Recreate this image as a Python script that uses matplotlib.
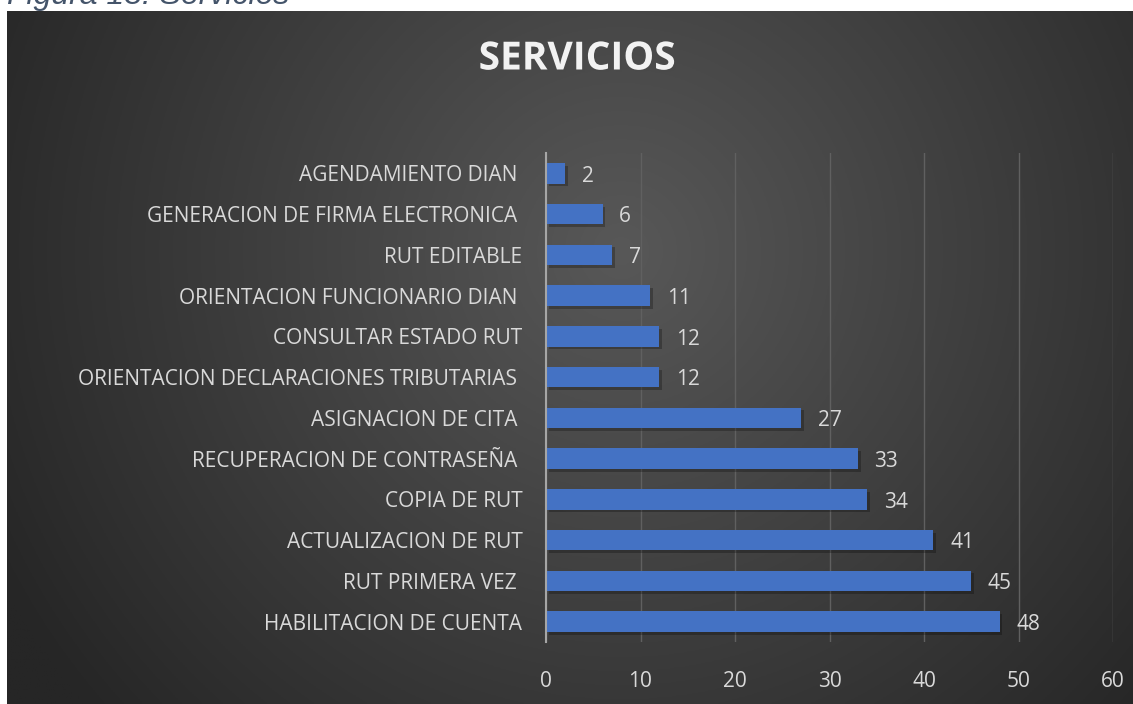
import numpy as np
import matplotlib.pyplot as plt
from matplotlib import patheffects as pe

categories = ["AGENDAMIENTO DIAN ", "GENERACION DE FIRMA ELECTRONICA ", "RUT EDITABLE",
              "ORIENTACION FUNCIONARIO DIAN ", "CONSULTAR ESTADO RUT",
              "ORIENTACION DECLARACIONES TRIBUTARIAS ", "ASIGNACION DE CITA ",
              "RECUPERACION DE CONTRASEÑA ", "COPIA DE RUT", "ACTUALIZACION DE RUT",
              "RUT PRIMERA VEZ ", "HABILITACION DE CUENTA"]
values = [2, 6, 7, 11, 12, 12, 27, 33, 34, 41, 45, 48]
xticks = [0, 10, 20, 30, 40, 50, 60]
title = "SERVICIOS"
caption = "Figura 13. Servicios"

W, H = 1133, 704
fig = plt.figure(figsize=(W / 100, H / 100), dpi=100, facecolor="white")

# dark gradient background
bg_left, bg_top = 7, 11
bgax = fig.add_axes([bg_left / W, 0, 1 - bg_left / W, (H - bg_top) / H])
bgax.set_axis_off()
ny, nx = 300, 500
yy, xx = np.mgrid[0:ny, 0:nx]
px = bg_left + xx / nx * (W - bg_left)
py = bg_top + yy / ny * (H - bg_top)
d = np.sqrt((px - 620) ** 2 + (py - 250) ** 2) / 700
d = np.clip(d, 0, 1)
c0 = np.array([0x58, 0x58, 0x58]) / 255
c1 = np.array([0x26, 0x26, 0x26]) / 255
img = c0[None, None, :] * (1 - d[..., None]) + c1[None, None, :] * d[..., None]
bgax.imshow(img, aspect="auto", extent=[0, 1, 0, 1], origin="upper")

fig.text(7 / W, 1 - 4 / H, caption, fontsize=23, style="italic", color="#44546A",
         family="Liberation Sans", ha="left", va="baseline")

ax = fig.add_axes([546 / W, 62 / H, 567 / W, 489 / H])
ax.set_facecolor("none")
y = np.arange(len(categories))
bars = ax.barh(y, values, height=0.5, color="#4472C4", zorder=3)
for b in bars:
    b.set_path_effects([pe.SimplePatchShadow(offset=(2, -2), shadow_rgbFace="black", alpha=0.25), pe.Normal()])
ax.set_ylim(len(categories) - 0.5, -0.5)
ax.set_xlim(0, 60)
ax.set_xticks(xticks)
ax.set_yticks(y)
ax.set_yticklabels(categories)
ax.grid(axis="x", color="#606060", linewidth=1, zorder=0)
for s in ["top", "right", "bottom"]:
    ax.spines[s].set_visible(False)
ax.spines["left"].set_color("#a6a6a6")
ax.spines["left"].set_linewidth(1.5)
ax.spines["left"].set_zorder(4)
ax.tick_params(axis="both", length=0, colors="#d9d9d9", labelsize=15)
ax.tick_params(axis="y", pad=17)
ax.tick_params(axis="x", pad=21)
for lab in ax.get_xticklabels() + ax.get_yticklabels():
    lab.set_family("Open Sans")
for yi, v in zip(y, values):
    ax.annotate(str(v), (v, yi), xytext=(12, -2), textcoords="offset points",
                va="center", ha="left", color="#d9d9d9", fontsize=15, family="Open Sans")

fig.text(577 / W, 1 - 59 / H, title, fontsize=28, weight="bold",
         color="#f2f2f2", family="Open Sans", ha="center", va="center",
         path_effects=[pe.withSimplePatchShadow(offset=(1.5, -1.5), alpha=0.4)])

fig.savefig("out.png", dpi=100, facecolor="white")
